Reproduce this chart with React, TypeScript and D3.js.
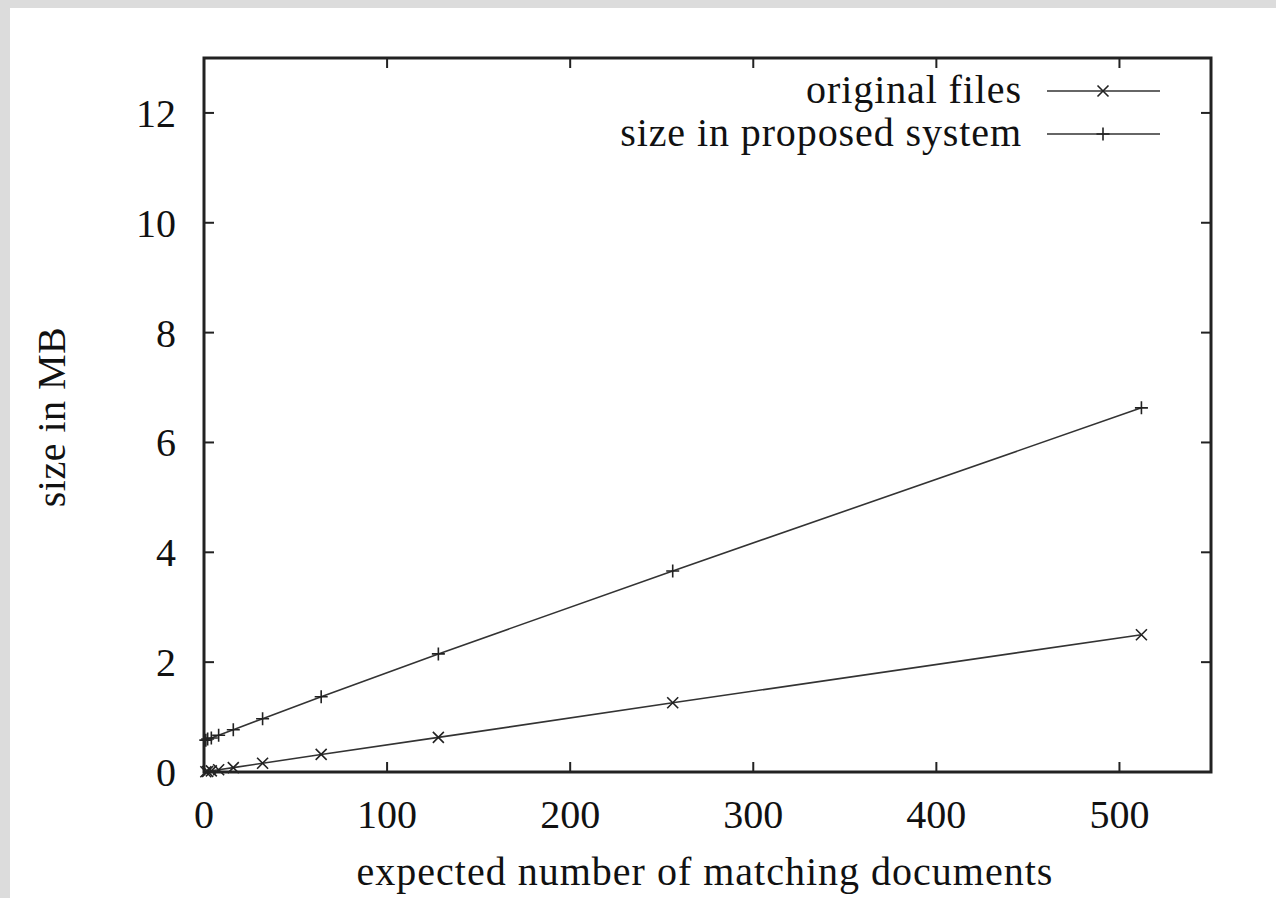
import React from "react";
import * as d3 from "d3";

const xValues = [1, 2, 4, 8, 16, 32, 64, 128, 256, 512];
const originalFiles = [0.005, 0.01, 0.02, 0.04, 0.08, 0.16, 0.32, 0.63, 1.26, 2.5];
const proposedSystem = [0.58, 0.6, 0.62, 0.67, 0.77, 0.97, 1.37, 2.15, 3.66, 6.63];
const xTicks = [0, 100, 200, 300, 400, 500];
const yTicks = [0, 2, 4, 6, 8, 10, 12];
const seriesNames = ["original files", "size in proposed system"];

const W = 1276, H = 898;
const L = 204, R = 1211, T = 58, B = 772;
const FONT = "'Liberation Serif', 'Times New Roman', serif";

export default function App() {
  const x = d3.scaleLinear().domain([0, 550]).range([L, R]);
  const y = d3.scaleLinear().domain([0, 13]).range([B, T]);
  const line = d3.line<number>().x((_, i) => x(xValues[i])).y((d) => y(d));
  const ms = 5.5;
  const cross = (cx: number, cy: number, k: string) => (
    <path key={k} d={`M${cx - ms},${cy - ms}L${cx + ms},${cy + ms}M${cx - ms},${cy + ms}L${cx + ms},${cy - ms}`} stroke="#222" strokeWidth={1.6} fill="none" />
  );
  const plus = (cx: number, cy: number, k: string) => (
    <path key={k} d={`M${cx - ms - 1},${cy}L${cx + ms + 1},${cy}M${cx},${cy - ms - 1}L${cx},${cy + ms + 1}`} stroke="#222" strokeWidth={1.6} fill="none" />
  );
  const tickLen = 10;
  return (
    <svg width={W} height={H} style={{ position: "absolute", left: 0, top: 0 }} fontFamily={FONT}>
      <rect x={0} y={0} width={W} height={H} fill="#dcdcdc" />
      <rect x={10} y={8} width={W - 10} height={H - 8} fill="#ffffff" />
      <defs>
        <clipPath id="clip"><rect x={L - 8} y={T} width={R - L + 8} height={B - T + 8} /></clipPath>
      </defs>
      <g clipPath="url(#clip)">
        <path d={line(originalFiles) || ""} stroke="#333" strokeWidth={1.6} fill="none" />
        <path d={line(proposedSystem) || ""} stroke="#333" strokeWidth={1.6} fill="none" />
        {originalFiles.map((v, i) => cross(x(xValues[i]), y(v), "o" + i))}
        {proposedSystem.map((v, i) => plus(x(xValues[i]), y(v), "p" + i))}
      </g>
      {xTicks.map((t) => (
        <g key={"x" + t}>
          <line x1={x(t)} x2={x(t)} y1={B} y2={B - tickLen} stroke="#222" strokeWidth={2} />
          <line x1={x(t)} x2={x(t)} y1={T} y2={T + tickLen} stroke="#222" strokeWidth={2} />
          <text x={x(t)} y={828} textAnchor="middle" fontSize={40} fill="#111">{t}</text>
        </g>
      ))}
      {yTicks.map((t) => (
        <g key={"y" + t}>
          <line x1={L} x2={L + tickLen} y1={y(t)} y2={y(t)} stroke="#222" strokeWidth={2} />
          <line x1={R} x2={R - tickLen} y1={y(t)} y2={y(t)} stroke="#222" strokeWidth={2} />
          <text x={176} y={y(t) + 14} textAnchor="end" fontSize={40} fill="#111">{t}</text>
        </g>
      ))}
      <rect x={L} y={T} width={R - L} height={B - T} fill="none" stroke="#222" strokeWidth={3} />
      <text x={705} y={885} textAnchor="middle" fontSize={40} letterSpacing={1} fill="#111">expected number of matching documents</text>
      <text transform={`translate(65,417) rotate(-90)`} textAnchor="middle" fontSize={40} letterSpacing={0.5} fill="#111">size in MB</text>
      {seriesNames.map((n, i) => {
        const ly = 91 + i * 43;
        return (
          <g key={n}>
            <text x={1022} y={ly + 12} textAnchor="end" fontSize={40} letterSpacing={0.9} fill="#111">{n}</text>
            <line x1={1047} x2={1160} y1={ly} y2={ly} stroke="#333" strokeWidth={1.6} />
            {i === 0 ? cross(1103, ly, "lc") : plus(1103, ly, "lp")}
          </g>
        );
      })}
    </svg>
  );
}
